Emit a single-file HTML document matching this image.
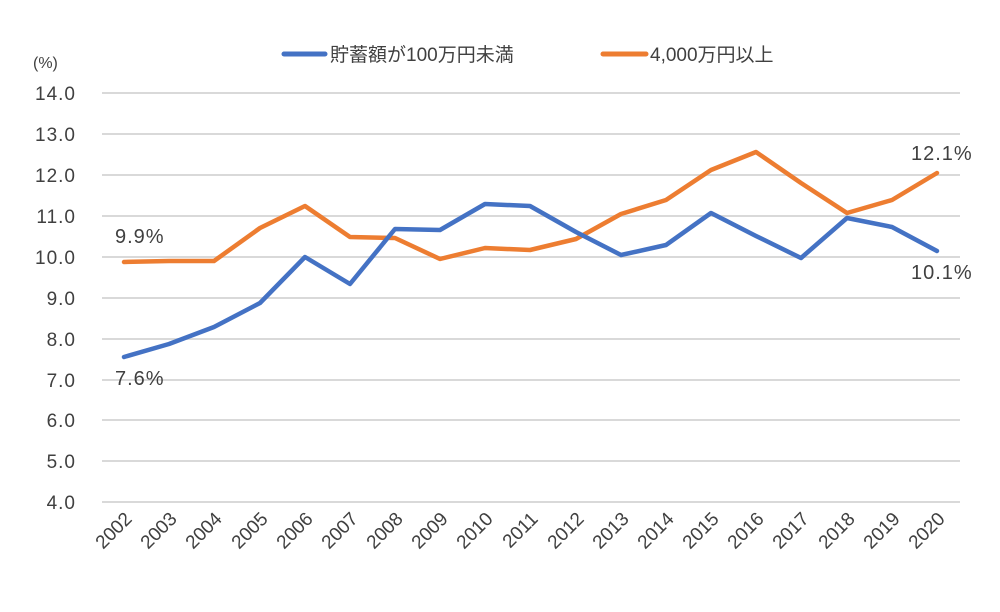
<!DOCTYPE html>
<html><head><meta charset="utf-8"><style>body{margin:0;background:#fff}</style></head>
<body>
<svg width="1000" height="607" xmlns="http://www.w3.org/2000/svg" font-family="'Liberation Sans','Noto Sans CJK JP',sans-serif" fill="#404040">
<rect width="1000" height="607" fill="#fff"/>
<g stroke="#d9d9d9" stroke-width="2">
<line x1="102" x2="960" y1="93" y2="93"/><line x1="102" x2="960" y1="134" y2="134"/>
<line x1="102" x2="960" y1="175" y2="175"/><line x1="102" x2="960" y1="216" y2="216"/>
<line x1="102" x2="960" y1="257" y2="257"/><line x1="102" x2="960" y1="298" y2="298"/>
<line x1="102" x2="960" y1="339" y2="339"/><line x1="102" x2="960" y1="380" y2="380"/>
<line x1="102" x2="960" y1="420" y2="420"/><line x1="102" x2="960" y1="461" y2="461"/>
<line x1="102" x2="960" y1="502" y2="502"/>
</g>
<g font-size="19" text-anchor="end" letter-spacing="1">
<text x="76" y="100">14.0</text><text x="76" y="141">13.0</text><text x="76" y="182">12.0</text>
<text x="76" y="223">11.0</text><text x="76" y="264">10.0</text><text x="76" y="305">9.0</text>
<text x="76" y="346">8.0</text><text x="76" y="387">7.0</text><text x="76" y="427">6.0</text>
<text x="76" y="468">5.0</text><text x="76" y="509">4.0</text>
</g>
<text x="33" y="68" font-size="16">(%)</text>
<line x1="284" x2="325" y1="54" y2="54" stroke="#4472c4" stroke-width="5" stroke-linecap="round"/>
<text x="330" y="61" font-size="19">貯蓄額が100万円未満</text>
<line x1="603" x2="646" y1="54" y2="54" stroke="#ed7d31" stroke-width="5" stroke-linecap="round"/>
<text x="650" y="61" font-size="19">4,000万円以上</text>
<polyline fill="none" stroke="#ed7d31" stroke-width="4.5" stroke-linejoin="round" stroke-linecap="round" points="124,262 169,261 214,261 260,228 305,206 350,237 395,238 440,259 485,248 530,250 576,239 621,214 666,200 711,170 756,152 801,183 847,213 892,200 937,173"/>
<polyline fill="none" stroke="#4472c4" stroke-width="4.5" stroke-linejoin="round" stroke-linecap="round" points="124,357 169,344 214,327 260,303 305,257 350,284 395,229 440,230 485,204 530,206 576,232 621,255 666,245 711,213 756,236 801,258 847,218 892,227 937,251"/>
<g font-size="20" letter-spacing="1">
<text x="115" y="243">9.9%</text>
<text x="115" y="385">7.6%</text>
<text x="911" y="160">12.1%</text>
<text x="911" y="279">10.1%</text>
</g>
<g font-size="19" text-anchor="end">
<text transform="translate(133,520) rotate(-45)">2002</text>
<text transform="translate(178,520) rotate(-45)">2003</text>
<text transform="translate(223,520) rotate(-45)">2004</text>
<text transform="translate(269,520) rotate(-45)">2005</text>
<text transform="translate(314,520) rotate(-45)">2006</text>
<text transform="translate(359,520) rotate(-45)">2007</text>
<text transform="translate(404,520) rotate(-45)">2008</text>
<text transform="translate(449,520) rotate(-45)">2009</text>
<text transform="translate(494,520) rotate(-45)">2010</text>
<text transform="translate(539,520) rotate(-45)">2011</text>
<text transform="translate(585,520) rotate(-45)">2012</text>
<text transform="translate(630,520) rotate(-45)">2013</text>
<text transform="translate(675,520) rotate(-45)">2014</text>
<text transform="translate(720,520) rotate(-45)">2015</text>
<text transform="translate(765,520) rotate(-45)">2016</text>
<text transform="translate(810,520) rotate(-45)">2017</text>
<text transform="translate(856,520) rotate(-45)">2018</text>
<text transform="translate(901,520) rotate(-45)">2019</text>
<text transform="translate(946,520) rotate(-45)">2020</text>
</g>
</svg>
</body></html>
